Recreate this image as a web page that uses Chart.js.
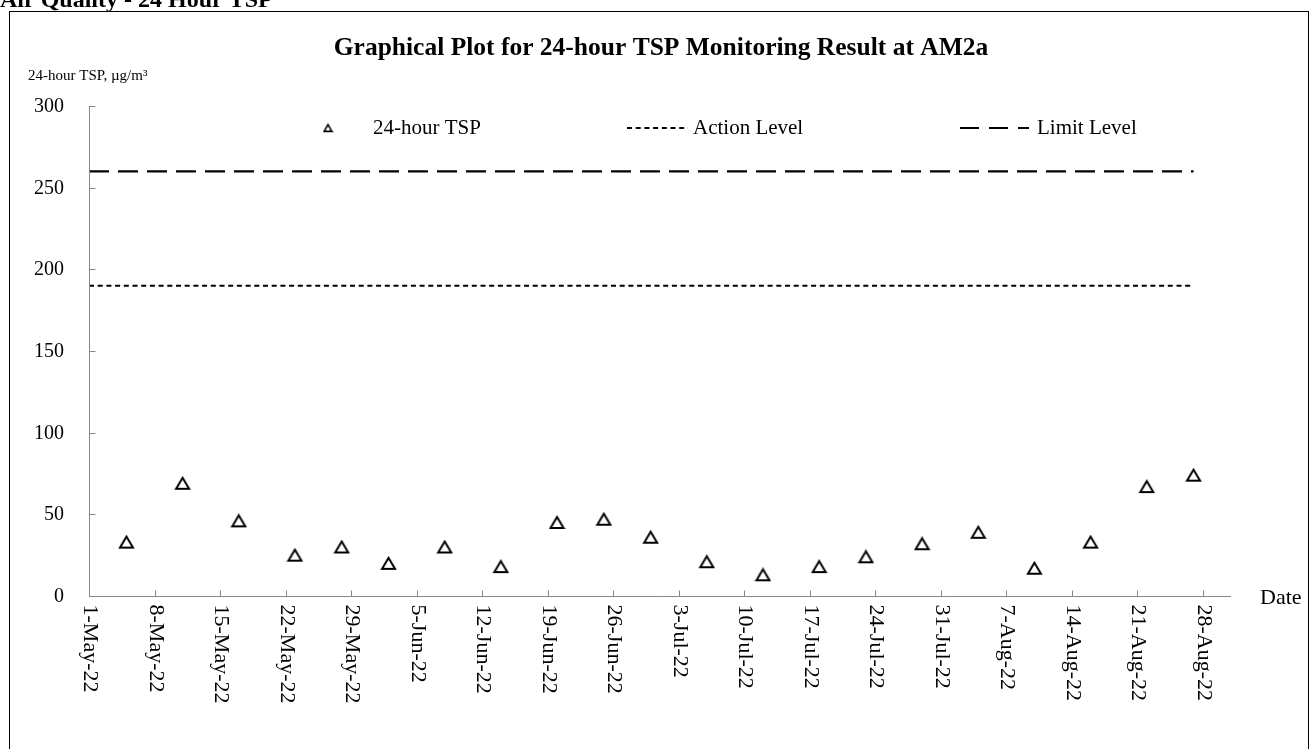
<!DOCTYPE html>
<html>
<head>
<meta charset="utf-8">
<script src="https://cdn.jsdelivr.net/npm/chart.js@4.4.1/dist/chart.umd.min.js"></script>
<style>
  html, body { margin: 0; padding: 0; background: #fff; }
  #wrap { width: 1316px; height: 749px; position: relative; }
</style>
</head>
<body>
<div id="wrap"><canvas id="myChart"></canvas></div>
<script>
// Monitoring dates and 24-hour TSP results (ug/m3)
const sampleDates = ['2022-05-05', '2022-05-11', '2022-05-17', '2022-05-23', '2022-05-28', '2022-06-02',
    '2022-06-08', '2022-06-14', '2022-06-20', '2022-06-25', '2022-06-30', '2022-07-06', '2022-07-12',
    '2022-07-18', '2022-07-23', '2022-07-29', '2022-08-04', '2022-08-10', '2022-08-16', '2022-08-22',
    '2022-08-27'];
const tspValues = [33, 69, 46, 25, 30, 20, 30, 18, 45, 47, 36, 21, 13, 18, 24, 32, 39, 17, 33, 67, 74];

// Action / Limit levels
const levelDates = ['2022-05-01', '2022-08-27'];
const actionLevel = [190, 190];
const limitLevel = [260, 260];

// axis ticks
const xTickLabels = ['1-May-22', '8-May-22', '15-May-22', '22-May-22', '29-May-22', '5-Jun-22', '12-Jun-22',
    '19-Jun-22', '26-Jun-22', '3-Jul-22', '10-Jul-22', '17-Jul-22', '24-Jul-22', '31-Jul-22', '7-Aug-22',
    '14-Aug-22', '21-Aug-22', '28-Aug-22'];
const yTicks = [0, 50, 100, 150, 200, 250, 300];
const xStart = '2022-05-01', xEnd = '2022-08-31';

const FONT = '"Liberation Serif", "Times New Roman", serif';
const AXIS_GREY = '#868686';

// days since 1 May 2022
const base = Date.UTC(2022, 4, 1);
function dayOf(iso) {
    const p = iso.split('-').map(Number);
    return (Date.UTC(p[0], p[1] - 1, p[2]) - base) / 86400000;
}
const months = { Jan: 0, Feb: 1, Mar: 2, Apr: 3, May: 4, Jun: 5, Jul: 6, Aug: 7, Sep: 8, Oct: 9, Nov: 10, Dec: 11 };
function dayOfLabel(lbl) {
    const p = lbl.split('-');
    return (Date.UTC(2000 + Number(p[2]), months[p[1]], Number(p[0])) - base) / 86400000;
}

// hollow triangle marker, centred on its box like the Excel one
function makeTriangle(w, h, lw) {
    const c = document.createElement('canvas');
    c.width = w + lw * 2; c.height = h + lw * 2;
    const g = c.getContext('2d');
    g.lineWidth = lw;
    g.strokeStyle = '#000';
    g.lineJoin = 'miter';
    g.beginPath();
    g.moveTo(c.width / 2, lw);
    g.lineTo(c.width - lw, c.height - lw);
    g.lineTo(lw, c.height - lw);
    g.closePath();
    g.stroke();
    return c;
}
const triMarker = makeTriangle(13, 11, 2);
const triLegend = makeTriangle(8, 7, 1.6);

const tspPoints = sampleDates.map((d, i) => ({ x: dayOf(d), y: tspValues[i] }));
const actionPoints = levelDates.map((d, i) => ({ x: dayOf(d), y: actionLevel[i] }));
const limitPoints = levelDates.map((d, i) => ({ x: dayOf(d), y: limitLevel[i] }));

// axes, labels, legend and frame drawn around the chart area
const decorations = {
    id: 'decorations',
    afterDraw(chart) {
        const ctx = chart.ctx;
        const xs = chart.scales.x, ys = chart.scales.y;
        const a = chart.chartArea;
        ctx.save();

        // outer frame
        ctx.strokeStyle = '#000';
        ctx.lineWidth = 1;
        ctx.strokeRect(9.5, 11.5, 1299, 760);

        // section heading (cut off at the top)
        ctx.fillStyle = '#000';
        ctx.font = 'bold 24px ' + FONT;
        ctx.textAlign = 'left';
        ctx.textBaseline = 'alphabetic';
        ctx.fillText('Air Quality - 24 Hour TSP', 0, 7);

        // chart title
        ctx.font = 'bold 25.5px ' + FONT;
        ctx.textAlign = 'center';
        ctx.textBaseline = 'middle';
        ctx.fillText('Graphical Plot for 24-hour TSP Monitoring Result at AM2a', 661, 48);

        // y axis title
        ctx.font = '15px ' + FONT;
        ctx.textAlign = 'left';
        ctx.fillText('24-hour TSP, \u00b5g/m\u00b3', 28, 76);

        // axis lines
        ctx.strokeStyle = AXIS_GREY;
        ctx.lineWidth = 1;
        const x0 = Math.round(a.left) + 0.5, yb = Math.round(ys.getPixelForValue(0)) + 0.5;
        ctx.beginPath();
        ctx.moveTo(x0, a.top);
        ctx.lineTo(x0, yb);
        ctx.lineTo(a.right, yb);
        ctx.stroke();

        // y ticks (inside) and labels
        ctx.font = '20px ' + FONT;
        ctx.textAlign = 'right';
        ctx.textBaseline = 'middle';
        ctx.fillStyle = '#000';
        yTicks.forEach(v => {
            const y = Math.round(ys.getPixelForValue(v)) + 0.5;
            ctx.beginPath();
            ctx.moveTo(x0, y);
            ctx.lineTo(x0 + 6, y);
            ctx.stroke();
            ctx.fillText(String(v), 64, y);
        });

        // x ticks (inside) and rotated labels
        ctx.font = '22px ' + FONT;
        xTickLabels.forEach(lbl => {
            const x = Math.round(xs.getPixelForValue(dayOfLabel(lbl))) + 0.5;
            ctx.beginPath();
            ctx.moveTo(x, yb);
            ctx.lineTo(x, yb - 6);
            ctx.stroke();
            ctx.save();
            ctx.translate(x, yb + 8);
            ctx.rotate(Math.PI / 2);
            ctx.textAlign = 'left';
            ctx.textBaseline = 'middle';
            ctx.fillText(lbl, 0, 0);
            ctx.restore();
        });

        // x axis title
        ctx.font = '22px ' + FONT;
        ctx.textAlign = 'left';
        ctx.textBaseline = 'middle';
        ctx.fillText('Date', 1260, 598);

        // legend
        const ds = chart.data.datasets;
        const ly = 128;
        ctx.font = '21px ' + FONT;
        ctx.drawImage(triLegend, 328 - triLegend.width / 2, ly - triLegend.height / 2);
        ctx.fillText(ds[0].label, 373, ly);
        [[ds[1], 627, 688, 693, [5, 3.7]], [ds[2], 960, 1029, 1037, [19, 10]]].forEach(([d, x1, x2, tx, dash]) => {
            ctx.strokeStyle = '#000';
            ctx.lineWidth = d.borderWidth;
            ctx.setLineDash(dash);
            ctx.beginPath();
            ctx.moveTo(x1, ly);
            ctx.lineTo(x2, ly);
            ctx.stroke();
            ctx.setLineDash([]);
            ctx.fillText(d.label, tx, ly);
        });
        ctx.restore();
    }
};

const ctx = document.getElementById('myChart').getContext('2d');
const tspChart = new Chart(ctx, {
    type: 'scatter',
    data: {
        datasets: [{
            label: '24-hour TSP',
            data: tspPoints,
            pointStyle: triMarker,
            showLine: false,
        }, {
            label: 'Action Level',
            data: actionPoints,
            showLine: true,
            borderColor: '#000',
            borderWidth: 2,
            borderDash: [5, 3.7],
            pointRadius: 0,
        }, {
            label: 'Limit Level',
            data: limitPoints,
            showLine: true,
            borderColor: '#000',
            borderWidth: 2.2,
            borderDash: [20, 9],
            pointRadius: 0,
        }]
    },
    options: {
        responsive: true,
        maintainAspectRatio: false,
        animation: false,
        layout: { padding: { left: 89, right: 85, top: 106, bottom: 153 } },
        scales: {
            x: { type: 'linear', display: false, min: dayOf(xStart), max: dayOf(xEnd) },
            y: { type: 'linear', display: false, min: 0, max: 300 }
        },
        plugins: {
            legend: { display: false },
            tooltip: { enabled: false }
        },
        clip: false
    },
    plugins: [decorations]
});
</script>
</body>
</html>
